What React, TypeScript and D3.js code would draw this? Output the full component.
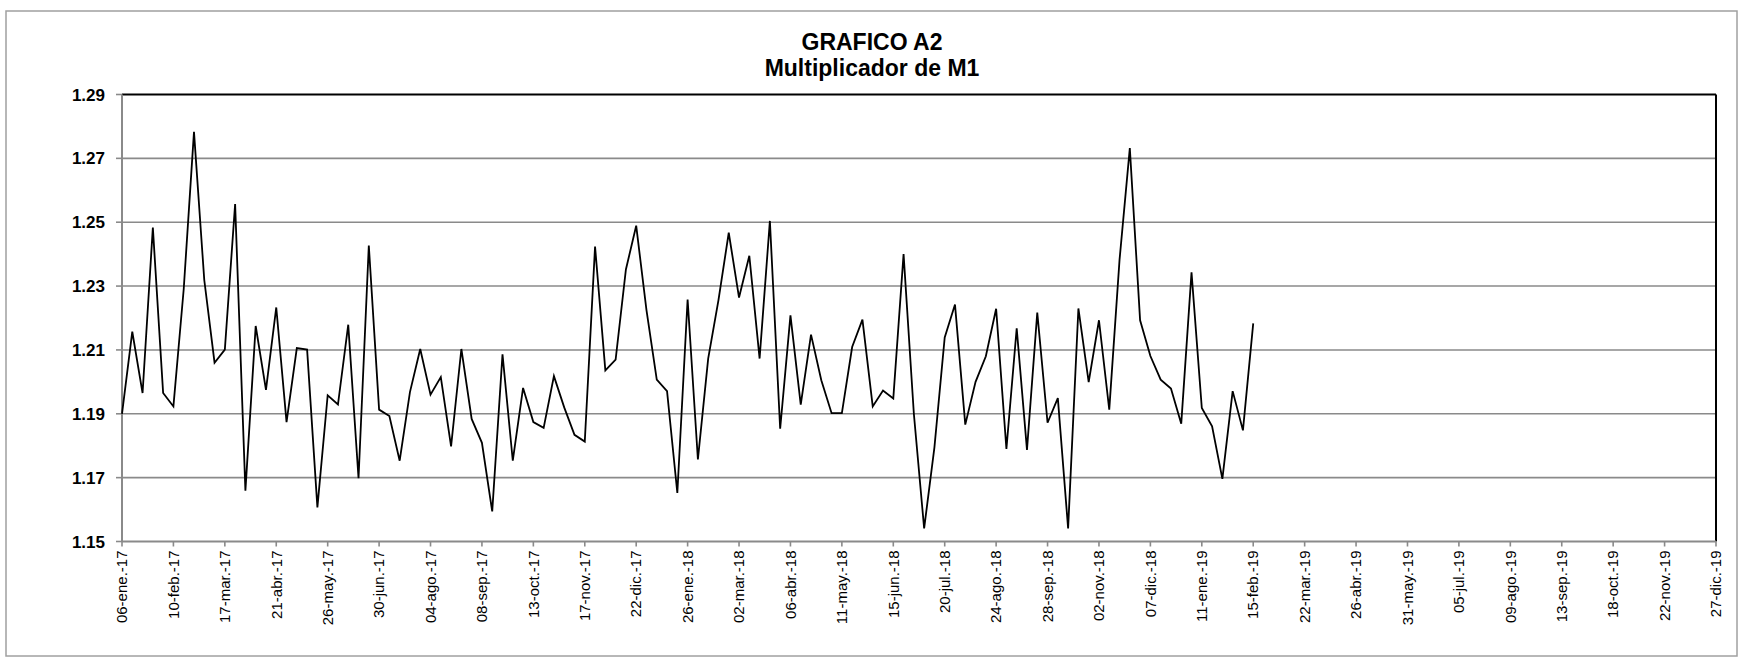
import React from "react";
import * as d3 from "d3";

const TITLE = ["GRAFICO A2", "Multiplicador de M1"];

// weekly observations starting 06-ene-2017
const START_DATE = "2017-01-06";
const values: number[] = [
  1.190, 1.2157, 1.1965, 1.2483, 1.1965, 1.1923, 1.229, 1.2783, 1.2319, 1.206,
  1.2101, 1.2557, 1.1659, 1.2175, 1.1975, 1.2233, 1.1874, 1.2106, 1.2101, 1.1607,
  1.1958, 1.1929, 1.2179, 1.1698, 1.2427, 1.1913, 1.1893, 1.1753, 1.1968, 1.2103,
  1.196, 1.2015, 1.1798, 1.2103, 1.1884, 1.1809, 1.1594, 1.2086, 1.1753, 1.1981,
  1.1874, 1.1856, 1.2018, 1.192, 1.1834, 1.1813, 1.2424, 1.2036, 1.207, 1.2352,
  1.2489, 1.2225, 1.2007, 1.1971, 1.1652, 1.2258, 1.1757, 1.2073, 1.2256, 1.2467,
  1.2264, 1.2395, 1.2073, 1.2504, 1.1853, 1.2208, 1.1929, 1.2148, 1.2005, 1.1902,
  1.1902, 1.2109, 1.2195, 1.1923, 1.1973, 1.1948, 1.240, 1.190, 1.1541, 1.1795,
  1.2139, 1.2242, 1.1866, 1.2, 1.208, 1.2229, 1.179, 1.2168, 1.1787, 1.2217,
  1.1872, 1.1949, 1.1541, 1.223, 1.1999, 1.2193, 1.1913, 1.2382, 1.2732, 1.2193,
  1.2081, 1.2007, 1.1979, 1.1869, 1.2343, 1.1918, 1.1861, 1.1696, 1.1971, 1.1848,
  1.2183,
];

const yTicks: number[] = [1.15, 1.17, 1.19, 1.21, 1.23, 1.25, 1.27, 1.29];

const xTickLabels: string[] = [
  "06-ene.-17", "10-feb.-17", "17-mar.-17", "21-abr.-17", "26-may.-17", "30-jun.-17",
  "04-ago.-17", "08-sep.-17", "13-oct.-17", "17-nov.-17", "22-dic.-17", "26-ene.-18",
  "02-mar.-18", "06-abr.-18", "11-may.-18", "15-jun.-18", "20-jul.-18", "24-ago.-18",
  "28-sep.-18", "02-nov.-18", "07-dic.-18", "11-ene.-19", "15-feb.-19", "22-mar.-19",
  "26-abr.-19", "31-may.-19", "05-jul.-19", "09-ago.-19", "13-sep.-19", "18-oct.-19",
  "22-nov.-19", "27-dic.-19",
];

const AXIS_END = "2019-12-27";

export default function App() {
  const W = 1744, H = 657;
  const left = 122, right = 1716, top = 94.5, bottom = 541.5;
  const start = new Date(START_DATE + "T00:00:00Z");
  const end = new Date(AXIS_END + "T00:00:00Z");
  const x = d3.scaleUtc().domain([start, end]).range([left, right]);
  const y = d3.scaleLinear().domain([1.15, 1.29]).range([bottom, top]);
  const dates = values.map((_, i) => d3.utcDay.offset(start, 7 * i));
  const tickDates = xTickLabels.map((_, k) => d3.utcDay.offset(start, 35 * k));
  const line = d3
    .line<number>()
    .x((_, i) => x(dates[i]))
    .y((d) => y(d));
  const font = "Arial, 'Liberation Sans', sans-serif";
  const grey = "#8a8a8a";
  return (
    <svg
      width={W}
      height={H}
      style={{ position: "absolute", left: 0, top: 0, background: "#fff" }}
      fontFamily={font}
    >
      <rect x={6} y={11} width={1731} height={645} fill="#fff" stroke="#a0a0a0" strokeWidth={1.5} />
      <text x={872} y={50} textAnchor="middle" fontSize={23} fontWeight="bold">{TITLE[0]}</text>
      <text x={872} y={76} textAnchor="middle" fontSize={23} fontWeight="bold">{TITLE[1]}</text>
      {yTicks.map((t) => (
        <g key={t}>
          {t > 1.15 && t < 1.29 && (
            <line x1={left} x2={right} y1={y(t)} y2={y(t)} stroke={grey} strokeWidth={1.6} />
          )}
          <line x1={left - 6} x2={left} y1={y(t)} y2={y(t)} stroke={grey} strokeWidth={1.6} />
          <text x={105} y={y(t)} dy="0.36em" textAnchor="end" fontSize={17} fontWeight="bold">
            {t.toFixed(2)}
          </text>
        </g>
      ))}
      {/* plot frame: top/right black */}
      <line x1={left} x2={right} y1={top} y2={top} stroke="#000" strokeWidth={2} />
      <line x1={right} x2={right} y1={top} y2={bottom} stroke="#000" strokeWidth={2} />
      {/* axes grey */}
      <line x1={left} x2={left} y1={top} y2={bottom} stroke={grey} strokeWidth={2} />
      <line x1={left} x2={right} y1={bottom} y2={bottom} stroke={grey} strokeWidth={2} />
      {tickDates.map((d, k) => (
        <g key={k} transform={`translate(${x(d)},${bottom})`}>
          <line y1={0} y2={5} stroke={grey} strokeWidth={1.6} />
          <text
            transform="rotate(-90)"
            x={-9}
            y={0}
            dy="0.35em"
            textAnchor="end"
            fontSize={15}
          >
            {xTickLabels[k]}
          </text>
        </g>
      ))}
      <path d={line(values) || ""} fill="none" stroke="#000" strokeWidth={1.8} strokeLinejoin="miter" />
    </svg>
  );
}
